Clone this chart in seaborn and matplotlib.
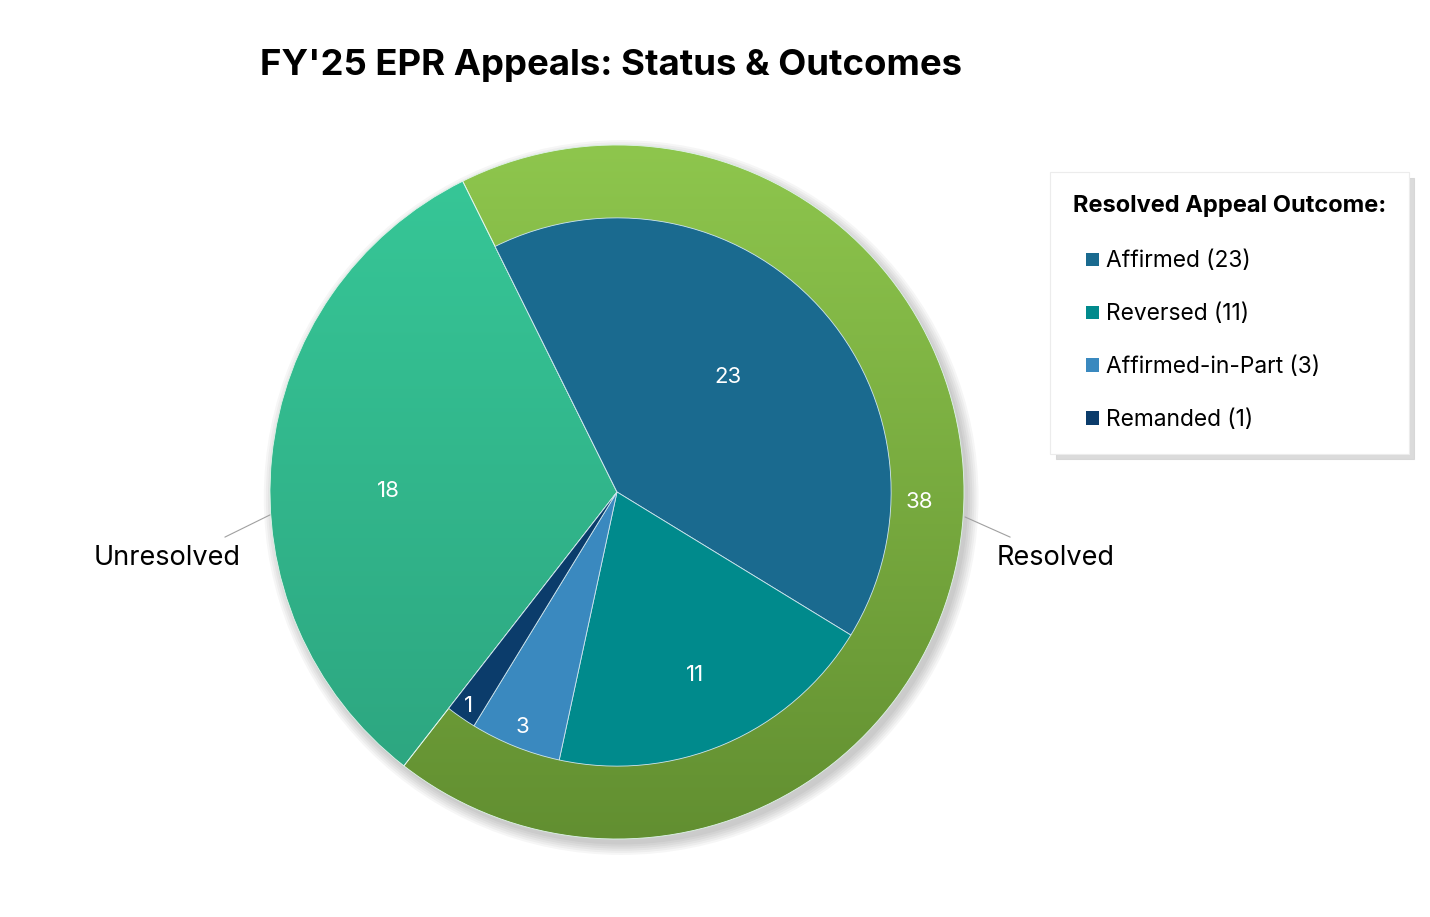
import numpy as np
import matplotlib
matplotlib.use("Agg")
import matplotlib.pyplot as plt
import seaborn as sns
from matplotlib.patches import Patch, Circle, Rectangle
from matplotlib.legend_handler import HandlerPatch
from matplotlib.colors import LinearSegmentedColormap

# data
status = ["Resolved", "Unresolved"]
status_counts = [38, 18]
outcomes = ["Affirmed", "Reversed", "Affirmed-in-Part", "Remanded"]
outcome_counts = [23, 11, 3, 1]

status_top = ["#8ec64d", "#37c898"]
status_bottom = ["#628f31", "#2ca37e"]
outcome_colors = ["#1a6a8f", "#008a8c", "#3a89bf", "#0b3c6b"]

sns.set_theme(style="white")
plt.rcParams['font.family'] = ['Inter', 'DejaVu Sans']
plt.rcParams['text.color'] = 'black'

fig = plt.figure(figsize=(14.3, 9.17), dpi=100)

# pie axes: centre at (617, 492) px, radius 347 px
R = 347
lim = 1.05
side = 2 * lim * R
cx, cy = 617, 917 - 492
ax = fig.add_axes([(cx - side / 2) / 1430, (cy - side / 2) / 917, side / 1430, side / 917])

start = 116.4

# soft shadow
for k in range(6):
    ax.add_patch(Circle((0.012, -0.016), 1.0 + 0.006 * k, color="black",
                        alpha=0.035, lw=0, zorder=0))

outer, _ = ax.pie(status_counts, radius=1.0, startangle=start, counterclock=False,
                  colors=status_top, wedgeprops=dict(linewidth=0.6, edgecolor="#dff5ea"))

inner_vals = outcome_counts + [status_counts[1]]
inner, _ = ax.pie(inner_vals, radius=0.79, startangle=start, counterclock=False,
                  colors=outcome_colors + ["none"],
                  wedgeprops=dict(linewidth=0.6, edgecolor="#cfe6f0"))
inner[-1].set_visible(False)
for w in inner[:-1]:
    w.set_zorder(3)

# vertical gradient fills on the outer wedges
grad = np.linspace(0, 1, 256).reshape(-1, 1)
for w, top, bot in zip(outer, status_top, status_bottom):
    cmap = LinearSegmentedColormap.from_list("g", [top, bot])
    im = ax.imshow(grad, cmap=cmap, extent=[-1, 1, -1, 1], origin="upper",
                   aspect="auto", zorder=1.5)
    im.set_clip_path(w)
    w.set_facecolor("none")
    w.set_zorder(2)

ax.set_xlim(-lim, lim)
ax.set_ylim(-lim, lim)
ax.set_aspect("equal")
ax.axis("off")


def label_xy(w, r, shift=0.0):
    a = np.deg2rad((w.theta1 + w.theta2) / 2 + shift)
    return r * np.cos(a), r * np.sin(a)


# value labels
inner_r = [0.46, 0.575, 0.73, 0.75]
inner_shift = [3.5, 0, 0, 0]
for w, v, r, s in zip(inner[:-1], outcome_counts, inner_r, inner_shift):
    x, y = label_xy(w, r, s)
    ax.text(x, y, str(v), color="white", fontsize=16, ha="center", va="center", zorder=5)

ax.text(0.87, -0.03, str(status_counts[0]), color="white", fontsize=16,
        ha="center", va="center", zorder=5)
ax.text(-0.66, 0.003, str(status_counts[1]), color="white", fontsize=16,
        ha="center", va="center", zorder=5)

# category labels with leader lines
ax.plot([-1.0, -1.13], [-0.066, -0.13], color="#a0a0a0", lw=0.8, zorder=4, clip_on=False)
ax.text(-1.084, -0.19, status[1], fontsize=19.5, ha="right", va="center")
ax.plot([1.003, 1.133], [-0.072, -0.13], color="#a0a0a0", lw=0.8, zorder=4, clip_on=False)
ax.text(1.095, -0.19, status[0], fontsize=19.5, ha="left", va="center")

fig.text(611 / 1430, 1 - 66 / 917, "FY'25 EPR Appeals: Status & Outcomes",
         fontsize=26.3, fontweight="bold", ha="center", va="center")


# square marker sitting at the right end of the handle area (indented entries)
def square_patch(legend, orig_handle, xdescent, ydescent, width, height, fontsize):
    s = 0.58 * fontsize
    return Rectangle((-xdescent + width - s, -ydescent + (height - s) / 2), s, s)


handles = [Patch(facecolor=c, edgecolor="none") for c in outcome_colors]
labels = [f"{o} ({n})" for o, n in zip(outcomes, outcome_counts)]
leg = fig.legend(handles, labels, loc="upper left",
                 bbox_to_anchor=(1050 / 1430, 1 - 172 / 917), borderaxespad=0,
                 title="Resolved Appeal Outcome:", fontsize=16.4,
                 title_fontproperties=dict(weight="bold", size=17),
                 frameon=True, shadow=dict(color="#d2d2d2", alpha=0.8, ox=4, oy=-4),
                 fancybox=False, borderpad=1.0, labelspacing=1.36,
                 handlelength=1.15, handleheight=0.7, handletextpad=0.3,
                 alignment="left",
                 handler_map={Patch: HandlerPatch(patch_func=square_patch)})
leg.get_frame().set_edgecolor("#ececec")
leg.get_frame().set_linewidth(0.8)
leg._legend_box.sep = 24

fig.savefig("out.png", dpi=100, facecolor="white")
